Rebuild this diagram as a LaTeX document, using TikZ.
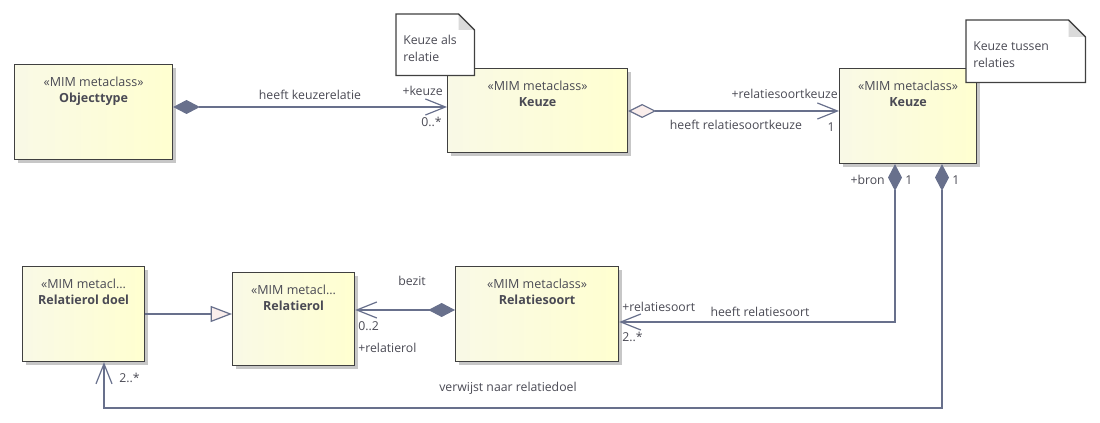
\documentclass[tikz,border=0pt]{standalone}
\usepackage{fontspec}
\setmainfont{Open Sans}
\usetikzlibrary{calc, arrows.meta, positioning, shadows}
\definecolor{linec}{RGB}{104,112,140}
\definecolor{textc}{RGB}{74,74,84}
\definecolor{boxl}{RGB}{249,249,230}
\definecolor{boxr}{RGB}{255,255,208}
\definecolor{aggf}{RGB}{250,238,236}
\definecolor{foldc}{RGB}{218,218,218}
\tikzset{
  cls/.style={draw=black!75, line width=0.9pt, anchor=north west, inner sep=0pt,
    left color=boxl, right color=boxr,
    drop shadow={fill=black!22, opacity=1, shadow xshift=2.2pt, shadow yshift=-2.2pt}},
  ttl/.style={align=center, font=\fontsize{9.4}{12.4}\selectfont, text=textc, inner sep=0pt},
  lab/.style={font=\fontsize{9.2}{12.8}\selectfont, text=textc, inner sep=0pt},
  conn/.style={draw=linec, line width=0.9pt},
  notebox/.style={anchor=north west, inner sep=0pt},
  notel/.style={draw=black!75, line width=0.9pt, fill=white},
  comp/.tip={Diamond[length=20pt, width=10.5pt, fill=linec]},
  agg/.tip={Diamond[open, length=21pt, width=10.5pt, fill=aggf]},
  nav/.tip={Straight Barb[length=15pt, width=12pt]},
  gen/.tip={Triangle[open, length=16pt, width=12pt, fill=aggf]}
}
\begin{document}
\begin{tikzpicture}[x=0.75pt, y=-0.75pt]
  \useasboundingbox (0,0) rectangle (1100,423);

  \coordinate (r1) at (0,107);
  \coordinate (r2) at (0,111);
  \coordinate (r3) at (0,322);
  \coordinate (r4) at (0,408);
  \coordinate (r5) at (0,310);
  \coordinate (r6) at (0,314);
  \coordinate (c1) at (895,0);
  \coordinate (c2) at (942,0);
  \coordinate (c3) at (104,0);

  \node[cls, minimum width=158*0.75pt, minimum height=95*0.75pt] (objt) at (14,64) {};
  \node[cls, minimum width=180*0.75pt, minimum height=84*0.75pt] (keuzeA) at (447,68) {};
  \node[cls, minimum width=137*0.75pt, minimum height=95*0.75pt] (keuzeB) at (839,68) {};
  \node[cls, minimum width=122*0.75pt, minimum height=95*0.75pt] (rdoel) at (22,266) {};
  \node[cls, minimum width=122*0.75pt, minimum height=93*0.75pt] (rol) at (232,272) {};
  \node[cls, minimum width=163*0.75pt, minimum height=95*0.75pt] (rsoort) at (455,266) {};

  \node[ttl, below=9.2pt of objt.north] (objt-t) {«MIM metaclass»\\\textbf{Objecttype}};
  \node[ttl, below=9.2pt of keuzeA.north] (keuzeA-t) {«MIM metaclass»\\\textbf{Keuze}};
  \node[ttl, below=9.2pt of keuzeB.north] (keuzeB-t) {«MIM metaclass»\\\textbf{Keuze}};
  \node[ttl, below=9.2pt of rdoel.north] (rdoel-t) {«MIM metacl...\\\textbf{Relatierol doel}};
  \node[ttl, below=9.2pt of rol.north] (rol-t) {«MIM metacl...\\\textbf{Relatierol}};
  \node[ttl, below=9.2pt of rsoort.north] (rsoort-t) {«MIM metaclass»\\\textbf{Relatiesoort}};

  \node[notebox, minimum width=78*0.75pt, minimum height=61*0.75pt] (note1) at (396,14) {};
  \draw[notel] (note1.north west) -- ($(note1.north east)+(-16,0)$) -- ($(note1.north east)+(0,16)$)
    -- (note1.south east) -- (note1.south west) -- cycle;
  \fill[foldc] ($(note1.north east)+(-16,0)$) -- ($(note1.north east)+(-16,16)$) -- ($(note1.north east)+(0,16)$) -- cycle;
  \draw[notel, fill=none] ($(note1.north east)+(-16,0)$) -- ($(note1.north east)+(0,16)$);
  \node[lab, anchor=north west, align=left] (note1-t) at ($(note1.north west)+(7,21)$) {Keuze als\\relatie};

  \node[notebox, minimum width=119*0.75pt, minimum height=62*0.75pt] (note2) at (966,20) {};
  \draw[notel] (note2.north west) -- ($(note2.north east)+(-17,0)$) -- ($(note2.north east)+(0,17)$)
    -- (note2.south east) -- (note2.south west) -- cycle;
  \fill[foldc] ($(note2.north east)+(-17,0)$) -- ($(note2.north east)+(-17,17)$) -- ($(note2.north east)+(0,17)$) -- cycle;
  \draw[notel, fill=none] ($(note2.north east)+(-17,0)$) -- ($(note2.north east)+(0,17)$);
  \node[lab, anchor=north west, align=left] (note2-t) at ($(note2.north west)+(7,21)$) {Keuze tussen\\relaties};

  \draw[conn, {comp}-{nav}] (objt.east |- r1) -- (keuzeA.west |- r1);
  \draw[conn, {agg}-{nav}] (keuzeA.east |- r2) -- (keuzeB.west |- r2);
  \draw[conn, {comp}-{nav}] (keuzeB.south -| c1) |- (rsoort.east |- r3);
  \draw[conn, {comp}-{nav}] (keuzeB.south -| c2) |- (c3 |- r4) -- (rdoel.south -| c3);
  \draw[conn, {comp}-{nav}] (rsoort.west |- r5) -- (rol.east |- r5);
  \draw[conn, -{gen}] (rdoel.east |- r6) -- (rol.west |- r6);

  \node[lab] (l-keuzerel) at (310,95) {heeft keuzerelatie};
  \node[lab, anchor=east] (l-keuze) at (443,91) {+keuze};
  \node[lab, anchor=east] (l-keuzem) at (442,122) {0..*};
  \node[lab, anchor=east] (l-rskeuze) at (838,94) {+relatiesoortkeuze};
  \node[lab] (l-hrskeuze) at (736,125) {heeft relatiesoortkeuze};
  \node[lab] (l-rskeuzem) at (831,127) {1};
  \node[lab, anchor=east] (l-bron) at (885,180) {+bron};
  \node[lab, anchor=west] (l-bronm) at (905,180) {1};
  \node[lab, anchor=west] (l-doelm) at (952,180) {1};
  \node[lab] (l-hrs) at (760,312) {heeft relatiesoort};
  \node[lab, anchor=west] (l-rs) at (622,307) {+relatiesoort};
  \node[lab, anchor=west] (l-rsm) at (622,337) {2..*};
  \node[lab] (l-verwijst) at (508,388) {verwijst naar relatiedoel};
  \node[lab, anchor=west] (l-rdoelm) at (119,378) {2..*};
  \node[lab] (l-bezit) at (412,281) {bezit};
  \node[lab, anchor=west] (l-rolm) at (358,326) {0..2};
  \node[lab, anchor=west] (l-rol) at (358,348) {+relatierol};
\end{tikzpicture}
\end{document}
